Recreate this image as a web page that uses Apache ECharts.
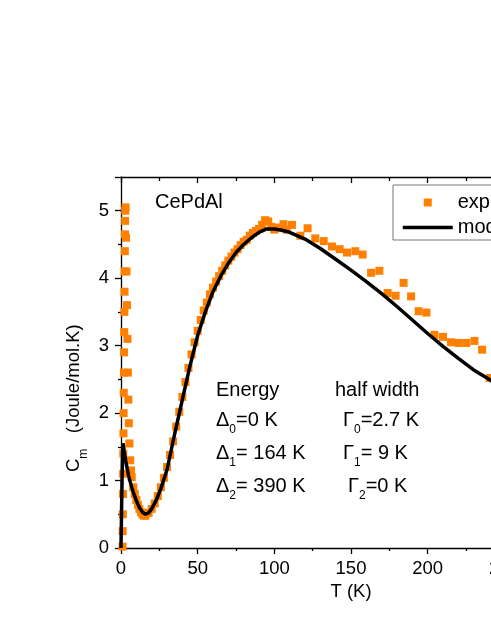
<!DOCTYPE html>
<html>
<head>
<meta charset="utf-8">
<script src="https://cdn.jsdelivr.net/npm/echarts@6/dist/echarts.min.js"></script>
<style>
html,body{margin:0;padding:0;background:#fff;}
#chart{width:491px;height:635px;}
</style>
</head>
<body>
<div id="chart"></div>
<script>
// Experimental data (T in K, Cm in Joule/mol.K)
var expT = [1.0,1.1,1.2,1.3,1.4,1.5,1.6,1.7,1.8,1.9,2.0,2.1,2.2,2.3,2.4,2.5,2.6,2.7,2.8,3.0,
  3.3,3.6,3.9,4.2,4.5,4.8,5.1,5.5,6,6.5,7,8,9,10,11,12,13,14,15,16,
  18,20,22,24,26,28,30,32,34,36,38,40,42,44,46,48,50,52,54,56,58,60,62,64,66,68,70,72,74,76,78,80,
  82,84,86,88,90,92,94,96,98,100,103,106,108,
  111.5,117,121.7,126.7,132.2,137.6,142.6,147.4,152.8,157.6,163.1,168.5,173.9,179.1,184.3,189.2,
  194.1,199.2,204.4,210,215.2,220.2,225.2,230.5,235.5,240.5];
var expC = [0.02,0.25,0.5,0.8,1.1,1.4,1.7,2.0,2.3,2.6,2.9,3.2,3.5,3.8,4.1,4.4,4.65,4.85,5.0,5.05,
  4.6,4.1,3.6,3.1,2.6,2.2,1.85,1.55,1.3,1.15,1.05,0.9,0.8,0.71,0.64,0.58,0.53,0.5,0.48,0.48,
  0.52,0.58,0.66,0.77,0.9,1.04,1.2,1.38,1.58,1.8,2.02,2.24,2.46,2.67,2.87,3.05,3.22,3.38,3.52,3.64,3.76,3.86,3.95,4.03,4.11,4.19,4.26,4.32,4.38,4.43,4.49,4.54,
  4.57,4.63,4.67,4.7,4.73,4.79,4.86,4.84,4.76,4.72,4.75,4.8,4.72,
  4.79,4.63,4.74,4.59,4.55,4.47,4.43,4.38,4.40,4.35,4.08,4.11,3.78,3.74,3.93,3.73,
  3.51,3.49,3.16,3.13,3.05,3.04,3.04,3.07,2.94,2.52];

// Model curve
var modelT = [0,0.4,0.8,1.1,1.3,1.6,2,3,4,5,6,7,8,10,12,14,16,18,20,23,26,30,35,40,45,50,55,60,65,70,75,80,85,90,95,100,105,110,120,130,140,150,160,170,180,190,200,210,220,230,240,250,260,280,300];
var modelC = [0,0.6,1.15,1.45,1.55,1.52,1.45,1.3,1.18,1.07,0.98,0.9,0.83,0.7,0.6,0.53,0.5,0.52,0.58,0.71,0.88,1.16,1.69,2.2,2.7,3.15,3.5,3.8,4.03,4.22,4.38,4.5,4.6,4.68,4.73,4.73,4.71,4.68,4.58,4.44,4.28,4.12,3.95,3.77,3.58,3.38,3.18,2.99,2.81,2.64,2.5,2.36,2.24,2.03,1.85];

// Axis ticks
var xMin = 0, xMax = 300, xStep = 50;
var yMin = 0, yMax = 5.5, yStep = 1;

var seriesNames = ['experiment', 'model'];

var FONT = '"Liberation Sans", Arial, sans-serif';
var expData = expT.map(function (t, i) { return [t, expC[i]]; });
var modelData = modelT.map(function (t, i) { return [t, modelC[i]]; });

var chart = echarts.init(document.getElementById('chart'), null, {renderer: 'canvas'});

function subText(x, y, main, sub, rest, fs) {
  return {
    type: 'text', x: x, y: y, z: 50,
    style: {
      text: '{a|' + main + '}{s|' + sub + '}{a|' + rest + '}',
      fill: '#000', textAlign: 'left', textVerticalAlign: 'top',
      rich: {
        a: {fontSize: fs, fontFamily: FONT, lineHeight: 22, verticalAlign: 'top', fill: '#000'},
        s: {fontSize: 12, fontFamily: FONT, lineHeight: 40, verticalAlign: 'middle', fill: '#000'}
      }
    }
  };
}

var axisLineStyle = {color: '#000', width: 1.3};

var option = {
  backgroundColor: '#fff',
  animation: false,
  grid: {left: 121, top: 177, width: 460, height: 371, containLabel: false, outerBoundsMode: 'none'},
  xAxis: [{
    type: 'value', min: xMin, max: xMax, interval: xStep, position: 'bottom',
    axisLine: {show: true, onZero: false, lineStyle: axisLineStyle},
    axisTick: {show: true, inside: false, length: 6, lineStyle: axisLineStyle},
    minorTick: {show: true, splitNumber: 2, length: 3, lineStyle: axisLineStyle},
    splitLine: {show: false},
    axisLabel: {fontSize: 18.5, fontFamily: FONT, color: '#000', margin: 11},
    name: 'T (K)', nameLocation: 'middle', nameGap: 30,
    nameTextStyle: {fontSize: 18.5, fontFamily: FONT, color: '#000'}
  }, {
    type: 'value', min: xMin, max: xMax, interval: xStep, position: 'top',
    axisLine: {show: true, onZero: false, lineStyle: axisLineStyle},
    axisTick: {show: true, inside: true, length: 6, lineStyle: axisLineStyle},
    minorTick: {show: true, splitNumber: 2, length: 4, lineStyle: axisLineStyle},
    splitLine: {show: false},
    axisLabel: {show: false}
  }],
  yAxis: [{
    type: 'value', min: yMin, max: yMax, interval: yStep, position: 'left',
    axisLine: {show: true, onZero: false, lineStyle: axisLineStyle},
    axisTick: {show: true, inside: false, length: 6, lineStyle: axisLineStyle},
    minorTick: {show: true, splitNumber: 2, length: 3, lineStyle: axisLineStyle},
    splitLine: {show: false},
    axisLabel: {fontSize: 18.5, fontFamily: FONT, color: '#000', margin: 12,
      formatter: function (v) { return v <= 5 ? String(v) : ''; }}
  }, {
    type: 'value', min: yMin, max: yMax, interval: yStep, position: 'right',
    axisLine: {show: true, onZero: false, lineStyle: axisLineStyle},
    axisTick: {show: true, inside: true, length: 6, lineStyle: axisLineStyle},
    splitLine: {show: false},
    axisLabel: {show: false}
  }],
  legend: {
    left: 393, top: 185, orient: 'vertical',
    padding: [7, 30, 2, 8], itemGap: 4, itemWidth: 50, itemHeight: 14,
    borderColor: '#777', borderWidth: 1,
    textStyle: {fontSize: 20, fontFamily: FONT, color: '#000', lineHeight: 21},
    selectedMode: false,
    data: [
      {name: seriesNames[0], icon: 'path://M0,0 M50,0 M50,14 M0,14 M21,3 L29,3 L29,11 L21,11 Z',
        itemStyle: {color: '#ff8000', opacity: 1}},
      {name: seriesNames[1], lineStyle: {width: 3.5, color: '#000'},
        itemStyle: {color: 'rgba(0,0,0,0)', borderWidth: 0, opacity: 0}}
    ]
  },
  series: [{
    name: seriesNames[0], type: 'scatter', data: expData,
    symbol: 'rect', symbolSize: 8,
    itemStyle: {color: '#ff8000', opacity: 1}, z: 2
  }, {
    name: seriesNames[1], type: 'line', data: modelData,
    showSymbol: false, symbol: 'none', smooth: false,
    lineStyle: {color: '#000', width: 3.5}, itemStyle: {color: '#000'}, z: 3
  }],
  graphic: [
    {type: 'text', x: 155, y: 202, z: 50,
      style: {text: 'CePdAl', fontSize: 20, fontFamily: FONT, fill: '#000', textVerticalAlign: 'middle'}},
    {type: 'text', x: 216, y: 390, z: 50,
      style: {text: 'Energy', fontSize: 20, fontFamily: FONT, fill: '#000', textVerticalAlign: 'middle'}},
    subText(216, 421 - 11, '\u0394', '0', '=0 K', 20),
    subText(216, 454 - 11, '\u0394', '1', '= 164 K', 20),
    subText(216, 487 - 11, '\u0394', '2', '= 390 K', 20),
    {type: 'text', x: 335, y: 390, z: 50,
      style: {text: 'half width', fontSize: 20, fontFamily: FONT, fill: '#000', textVerticalAlign: 'middle'}},
    subText(343, 421 - 11, '\u0393', '0', '=2.7 K', 20),
    subText(343, 454 - 11, '\u0393', '1', '= 9 K', 20),
    subText(348, 487 - 11, '\u0393', '2', '=0 K', 20),
    // y-axis title (rotated)
    {type: 'text', x: 64, y: 472, rotation: Math.PI / 2, z: 50,
      style: {
        text: '{a|C}{s|m}{a|   (Joule/mol.K)}',
        textAlign: 'left', textVerticalAlign: 'top', fill: '#000',
        rich: {
          a: {fontSize: 18.5, fontFamily: FONT, lineHeight: 22, verticalAlign: 'top', fill: '#000'},
          s: {fontSize: 12, fontFamily: FONT, lineHeight: 40, verticalAlign: 'middle', fill: '#000'}
        }
      }}
  ]
};
chart.setOption(option);
</script>
</body>
</html>
